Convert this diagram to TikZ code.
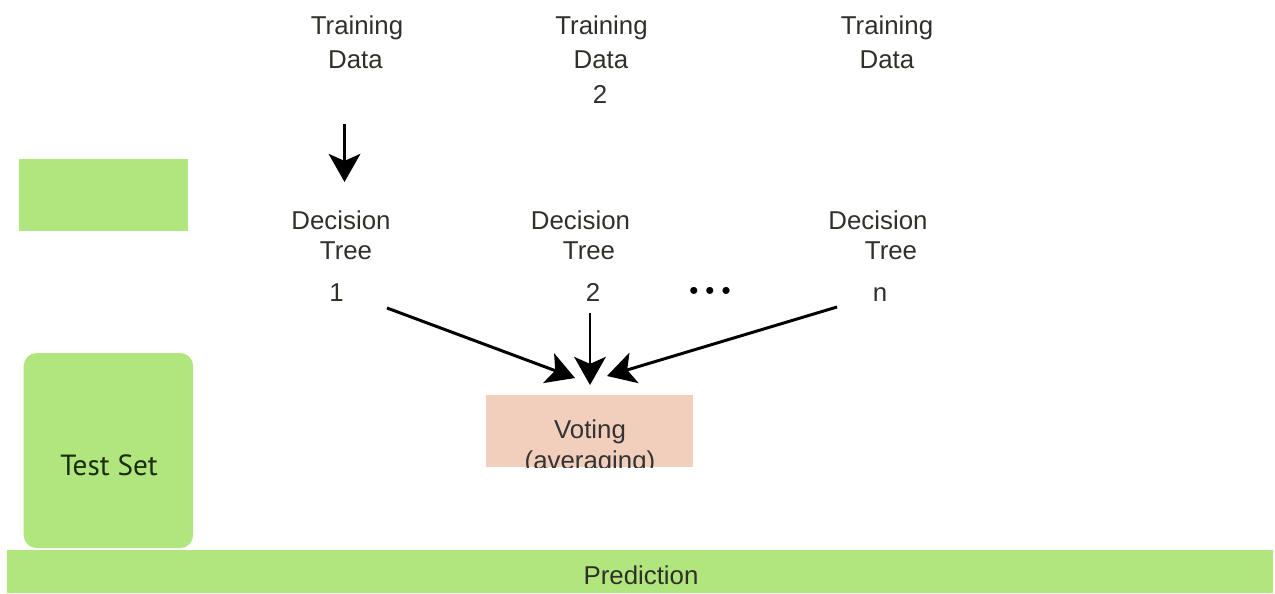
\documentclass[tikz,border=0pt]{standalone}
\usepackage{fontspec}
\usepackage{xcolor}
\setmainfont{Liberation Sans}
\newfontfamily\testsetfont{PT Sans}
\usetikzlibrary{arrows.meta}

\definecolor{leafgreen}{HTML}{B1E57D}
\definecolor{votesalmon}{HTML}{F2CEBC}
\definecolor{labelgray}{HTML}{30302B}
\definecolor{setgreen}{HTML}{1A2E0E}

\tikzset{
	lbl/.style={anchor=base, inner sep=0pt, text=labelgray, font=\fontsize{14.7}{17}\selectfont},
	arr/.style={-{Stealth[length=16pt,width=18pt,inset=4pt]}, line width=1.7pt, black},
	greenbox/.style={fill=leafgreen, inner sep=0pt, anchor=north west},
}

\begin{document}
\begin{tikzpicture}[x=0.02cm,y=-0.02cm]
	\useasboundingbox (0,0) rectangle (1275,593);
	% training data
	\node[lbl] at (357,34.3) (t1a) {Training};
	\node[lbl] at (355.5,68.3) (t1b) {Data};
	\node[lbl] at (601.5,34.3) (t2a) {Training};
	\node[lbl] at (601,68.3) (t2b) {Data};
	\node[lbl] at (600,103.3) (t2c) {2};
	\node[lbl] at (887,34.3) (t3a) {Training};
	\node[lbl] at (887,68.3) (t3b) {Data};
	% boxes on the left
	\node[greenbox, minimum width=3.38cm, minimum height=1.44cm] at (19,159) (g) {};
	\node[greenbox, rounded corners=0.26cm, minimum width=3.39cm, minimum height=3.9cm] at (23.3,352.7) (test) {};
	\node[anchor=base, inner sep=0pt, text=setgreen, font=\testsetfont\fontsize{16.6}{19}\selectfont] at (109,475.7) (testlbl) {Test Set};
	% decision trees
	\node[lbl] at (341,229.3) (d1a) {Decision};
	\node[lbl] at (346,259.3) (d1b) {Tree};
	\node[lbl] at (336.5,301.7) (d1c) {1};
	\node[lbl] at (580.5,229.3) (d2a) {Decision};
	\node[lbl] at (589,259.3) (d2b) {Tree};
	\node[lbl] at (593,301.7) (d2c) {2};
	\node[lbl] at (878,229.3) (d3a) {Decision};
	\node[lbl] at (891,259.3) (d3b) {Tree};
	\node[lbl] at (880,301.7) (d3c) {n};
	\node[lbl, text=black] at (710,299) (dots) {•\hspace{4pt}•\hspace{4pt}•};
	% voting
	\node[greenbox, fill=votesalmon, minimum width=4.14cm, minimum height=1.44cm] at (486,395) (vote) {};
	\begin{scope}
		\clip (vote.south west) rectangle (vote.north east);
		\node[lbl, text=black!80] at (590,438.3) (votea) {Voting};
		\node[lbl, text=black!80] at (590,469) (voteb) {(averaging)};
	\end{scope}
	% prediction
	\node[greenbox, minimum width=25.32cm, minimum height=0.86cm] at (7,550) (pred) {};
	\node[lbl] at (641,584) (predlbl) {Prediction};
	% arrows
	\coordinate (t1out) at (344.5,124);
	\coordinate (d1in) at (344.5,182);
	\coordinate (d1out) at (387,308);
	\coordinate (d2out) at (590,313);
	\coordinate (d3out) at (837,307);
	\coordinate (vin1) at (575,378);
	\coordinate (vin2) at (590,385);
	\coordinate (vin3) at (607,376);
	\draw[arr] (t1out) -- (d1in);
	\draw[arr] (d1out) -- (vin1);
	\draw[arr] (d2out) -- (vin2);
	\draw[arr] (d3out) -- (vin3);
\end{tikzpicture}
\end{document}
